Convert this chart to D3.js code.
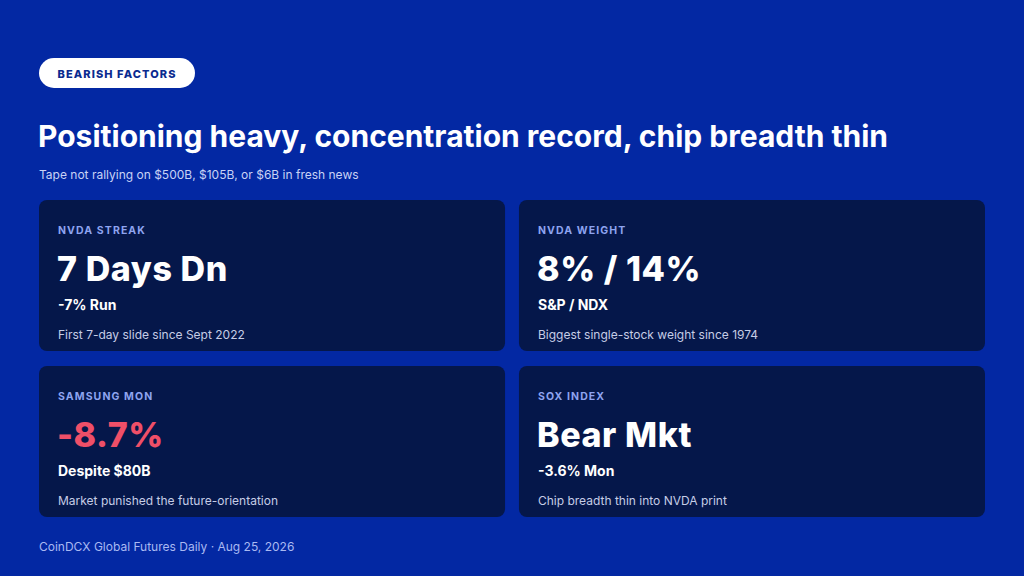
<!DOCTYPE html>
<html>
<head>
<meta charset="utf-8">
<script src="https://cdn.jsdelivr.net/npm/d3@7"></script>
<style>
  html, body { margin: 0; padding: 0; background: #0328a3; }
  svg { display: block; }
  text { font-family: Inter, "Open Sans", sans-serif; }
</style>
</head>
<body>
<svg id="chart" width="1024" height="576"></svg>
<script>
  // card content
  var labels = ['NVDA STREAK', 'NVDA WEIGHT', 'SAMSUNG MON', 'SOX INDEX'];
  var values = ['7 Days Dn', '8% / 14%', '-8.7%', 'Bear Mkt'];
  var subs = ['-7% Run', 'S&P / NDX', 'Despite $80B', '-3.6% Mon'];
  var notes = [
    'First 7-day slide since Sept 2022',
    'Biggest single-stock weight since 1974',
    'Market punished the future-orientation',
    'Chip breadth thin into NVDA print'
  ];

  var tag = 'BEARISH FACTORS';
  var title = 'Positioning heavy, concentration record, chip breadth thin';
  var subtitle = 'Tape not rallying on $500B, $105B, or $6B in fresh news';
  var footer = 'CoinDCX Global Futures Daily \u00b7 Aug 25, 2026';

  var W = 1024, H = 576;
  var svg = d3.select('#chart');

  svg.append('rect').attr('width', W).attr('height', H).attr('fill', '#0328a3');

  // tag pill
  var pill = svg.append('g').attr('transform', 'translate(39,58)');
  pill.append('rect')
    .attr('width', 156).attr('height', 30).attr('rx', 15)
    .attr('fill', '#ffffff');
  pill.append('text')
    .attr('x', 78).attr('y', 19.5)
    .attr('text-anchor', 'middle')
    .attr('font-size', 11).attr('font-weight', 800)
    .attr('letter-spacing', 1.1)
    .attr('fill', '#0a2a8f')
    .text(tag);

  svg.append('text')
    .attr('x', 38).attr('y', 147)
    .attr('font-size', 30).attr('font-weight', 700)
    .attr('fill', '#ffffff')
    .text(title);

  svg.append('text')
    .attr('x', 39).attr('y', 179)
    .attr('font-size', 12)
    .attr('fill', '#c9d3f5')
    .text(subtitle);

  // 2x2 grid of cards
  var col = d3.scaleBand().domain([0, 1]).range([39, 985]).paddingInner(0.029);
  var row = d3.scaleBand().domain([0, 1]).range([200, 517]).paddingInner(0.09);

  var cards = svg.selectAll('g.card')
    .data(labels.map(function (d, i) {
      return { label: d, value: values[i], sub: subs[i], note: notes[i], i: i };
    }))
    .enter().append('g')
    .attr('class', 'card')
    .attr('transform', function (d) {
      return 'translate(' + col(d.i % 2) + ',' + row(Math.floor(d.i / 2)) + ')';
    });

  cards.append('rect')
    .attr('width', col.bandwidth())
    .attr('height', row.bandwidth())
    .attr('rx', 8)
    .attr('fill', '#05174a');

  cards.append('text')
    .attr('x', 19).attr('y', 34)
    .attr('font-size', 10.5).attr('font-weight', 700)
    .attr('letter-spacing', 1.1)
    .attr('fill', '#8ea4f0')
    .text(function (d) { return d.label; });

  cards.append('text')
    .attr('x', 18).attr('y', 81)
    .attr('font-size', 34).attr('font-weight', 800)
    .attr('letter-spacing', 0.6)
    .attr('fill', function (d) { return d.value.charAt(0) === '-' ? '#ef4f68' : '#ffffff'; })
    .text(function (d) { return d.value; });

  cards.append('text')
    .attr('x', 19).attr('y', 110)
    .attr('font-size', 14).attr('font-weight', 700)
    .attr('fill', '#ffffff')
    .text(function (d) { return d.sub; });

  cards.append('text')
    .attr('x', 19).attr('y', 139)
    .attr('font-size', 12)
    .attr('fill', '#c6cde6')
    .text(function (d) { return d.note; });

  svg.append('text')
    .attr('x', 39).attr('y', 551)
    .attr('font-size', 12)
    .attr('fill', '#a9b9f2')
    .text(footer);
</script>
</body>
</html>
